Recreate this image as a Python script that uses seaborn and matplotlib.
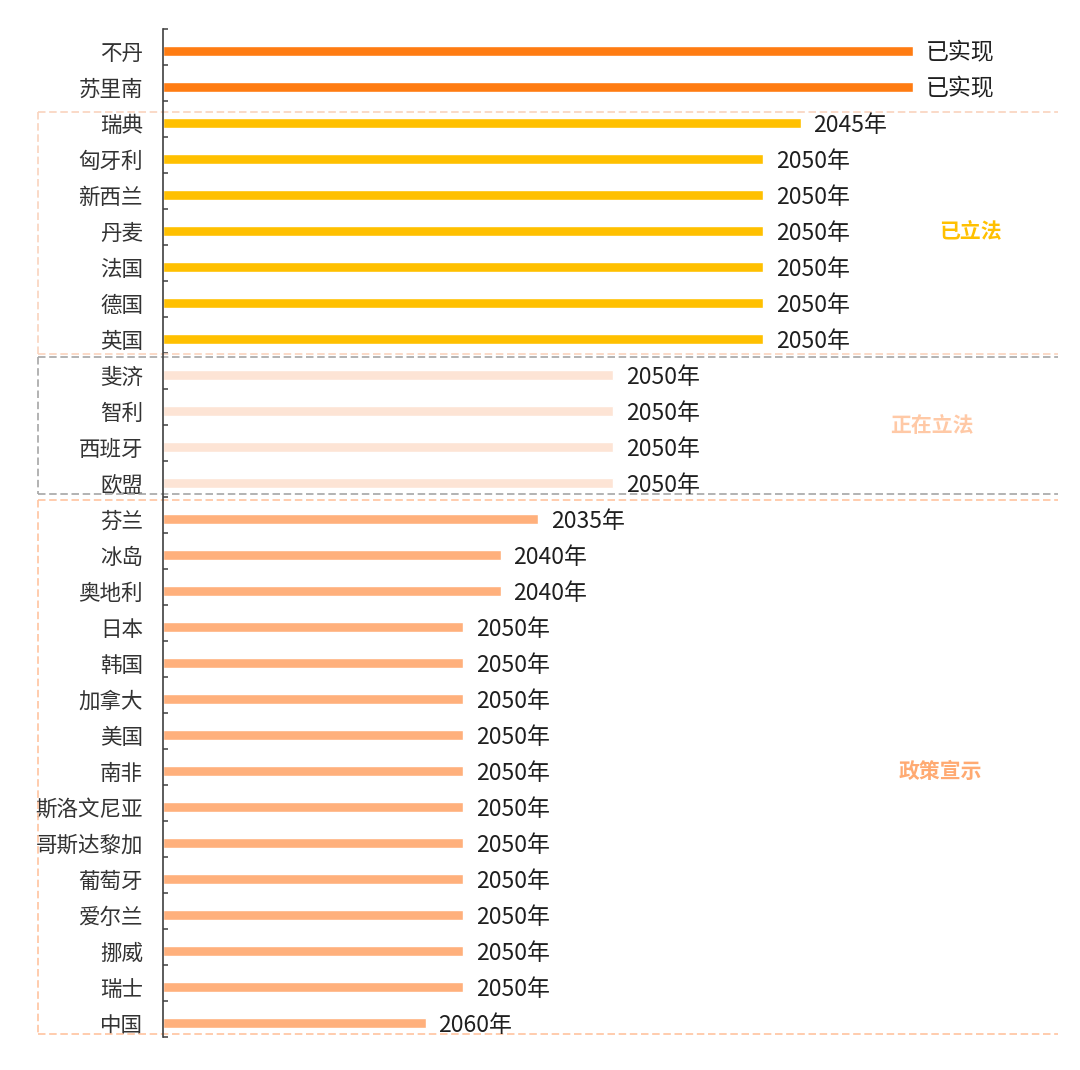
import numpy as np
import pandas as pd
import matplotlib
matplotlib.use("Agg")
import matplotlib.pyplot as plt
from matplotlib.ticker import FixedLocator
from matplotlib.transforms import Bbox, TransformedBbox
from matplotlib.lines import Line2D
import seaborn as sns

# ---------------- data ----------------
countries = ["不丹", "苏里南", "瑞典", "匈牙利", "新西兰", "丹麦", "法国", "德国", "英国",
             "斐济", "智利", "西班牙", "欧盟",
             "芬兰", "冰岛", "奥地利", "日本", "韩国", "加拿大", "美国", "南非",
             "斯洛文尼亚", "哥斯达黎加", "葡萄牙", "爱尔兰", "挪威", "瑞士", "中国"]
scores = [10, 10, 8.5, 8, 8, 8, 8, 8, 8,
          6, 6, 6, 6,
          5, 4.5, 4.5, 4, 4, 4, 4, 4, 4, 4, 4, 4, 4, 4, 3.5]
target_labels = ["已实现", "已实现", "2045年", "2050年", "2050年", "2050年", "2050年", "2050年", "2050年",
                 "2050年", "2050年", "2050年", "2050年",
                 "2035年", "2040年", "2040年", "2050年", "2050年", "2050年", "2050年", "2050年",
                 "2050年", "2050年", "2050年", "2050年", "2050年", "2050年", "2060年"]
groups = (["已实现"] * 2 + ["已立法"] * 7 + ["正在立法"] * 4 + ["政策宣示"] * 15)
group_names = ["已立法", "正在立法", "政策宣示"]

palette = {"已实现": "#FF7C12", "已立法": "#FFC000", "正在立法": "#FDE4D5", "政策宣示": "#FFB07C"}
note_colors = {"已立法": "#FFC000", "正在立法": "#FFC9A6", "政策宣示": "#FFAA72"}

df = pd.DataFrame({"country": countries, "score": scores, "group": groups})

# ---------------- figure ----------------
sns.set_style("white")
plt.rcParams["font.family"] = ["Noto Sans CJK SC", "DejaVu Sans"]

W, H = 1080, 1070
fig = plt.figure(figsize=(W / 100, H / 100), dpi=100)
ax_left, ax_right = 163 / W, 1063 / W
ax_top_px, ax_bot_px = 29, 1037
ax = fig.add_axes([ax_left, (H - ax_bot_px) / H, ax_right - ax_left, (ax_bot_px - ax_top_px) / H])

sns.barplot(data=df, y="country", x="score", hue="group", palette=palette,
            dodge=False, width=0.28, saturation=1, legend=False, ax=ax, orient="h")

n = len(countries)
off = 22 / 36  # offset of category boundary above bar centre
ax.set_xlim(0, 12)
ax.set_ylim(n - off, -off)

ax.set_xlabel("")
ax.set_ylabel("")
for s in ["top", "right", "bottom"]:
    ax.spines[s].set_visible(False)
ax.spines["left"].set_color("#404040")
ax.spines["left"].set_linewidth(1.2)
ax.set_xticks([])

ax.yaxis.set_minor_locator(FixedLocator([i - off for i in range(n + 1)]))
ax.tick_params(axis="y", which="major", left=True, length=0, pad=14.4,
               labelsize=15.5, labelcolor="#333333")
ax.tick_params(axis="y", which="minor", left=True, length=3.5, width=1.1,
               direction="in", color="#404040")

# clip long tick labels at the left like the original
clip = TransformedBbox(Bbox.from_extents(36 / W, 0, 1, 1), fig.transFigure)
for lab in ax.get_yticklabels():
    lab.set_clip_box(clip)
    lab.set_clip_on(True)

# value labels
for i, (v, lab) in enumerate(zip(scores, target_labels)):
    ax.annotate(lab, xy=(v, i), xytext=(13, -2), textcoords="offset pixels",
                va="center", ha="left", fontsize=16.5, color="#1F1F1F")

# dashed group boxes (left, top, bottom edges)
tr = ax.get_yaxis_transform()
xl = (38 - 163) / 900
xr = (1058 - 163) / 900
box_specs = [
    (1.69, 8.43, "#F9D3BD"),
    (8.50, 12.30, "#A6A6A6"),
    (12.47, 27.30, "#FFC4A0"),
]
for top, bot, col in box_specs:
    for xs, ys in [([xl, xr], [top, top]), ([xl, xr], [bot, bot]), ([xl, xl], [top, bot])]:
        ax.add_line(Line2D(xs, ys, transform=tr, color=col, lw=1.2,
                           linestyle=(0, (4.5, 2.2)), clip_on=False))

# group notes
note_pos = {"已立法": (10.76, 5.03), "正在立法": (10.25, 10.39), "政策宣示": (10.37, 20.0)}
for g in group_names:
    x, y = note_pos[g]
    ax.text(x, y, g, ha="center", va="center", fontsize=15, fontweight="bold",
            color=note_colors[g])

fig.savefig("out.png", dpi=100, facecolor="white")
